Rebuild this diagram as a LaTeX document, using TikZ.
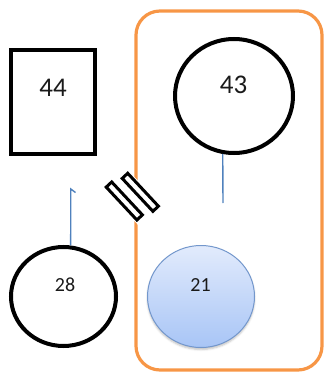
\documentclass[tikz,border=0pt]{standalone}
\usepackage{fontspec}
\setmainfont{Carlito}
\usetikzlibrary{shapes.geometric,shadows.blur}
\definecolor{frameorange}{HTML}{F79646}
\definecolor{linkblue}{HTML}{4F81BD}
\definecolor{ballborder}{HTML}{7397CC}
\definecolor{balltop}{HTML}{E2EBFC}
\definecolor{ballbottom}{HTML}{A8C5F6}
\definecolor{digit}{HTML}{1A1A1A}
\tikzset{
  outline/.style={draw=black, line width=4pt, inner sep=0pt},
  ring/.style={outline, ellipse},
  ball/.style={ellipse, draw=ballborder, line width=1pt, inner sep=0pt,
    top color=balltop, bottom color=ballbottom,
    blur shadow={shadow xshift=0pt, shadow yshift=-2pt, shadow blur radius=2pt, shadow opacity=25}},
  bigdigits/.style={text=digit, font=\fontsize{27}{30}\selectfont, inner sep=0pt},
  smalldigits/.style={text=digit, font=\fontsize{20}{22}\selectfont, inner sep=0pt},
  link/.style={draw=linkblue, line width=1.4pt},
  breakbar/.style={rectangle, draw=black, fill=white, line width=3pt,
    minimum width=45pt, minimum height=7.5pt, inner sep=0pt, rotate=-47},
}
\begin{document}
\begin{tikzpicture}[x=1pt, y=-1pt]
  \useasboundingbox (0,0) rectangle (325,377);

  % orange group frame
  \draw[frameorange, line width=3.2pt, rounded corners=24pt] (136,11) rectangle (322,370);

  % box 44
  \node[outline, rectangle, minimum width=84pt, minimum height=104pt] (b44) at (53,102) {};
  \node[bigdigits] (t44) at (53,88) {44};

  % ring 43
  \node[ring, minimum width=118pt, minimum height=114pt] (c43) at (234,96) {};
  \node[bigdigits] (t43) at (233.5,85) {43};

  % ring 28
  \node[ring, minimum width=105pt, minimum height=99pt] (c28) at (63.5,296.5) {};
  \node[smalldigits] (t28) at (65,285) {28};

  % shaded ball 21
  \node[ball, minimum width=107pt, minimum height=102pt] (c21) at (201,296.5) {};
  \node[smalldigits] (t21) at (200.5,285) {21};

  % short leads
  \coordinate (e43) at (223,203);
  \draw[link] (c43.259) -- (e43);
  \coordinate (e28) at (70.8,189);
  \coordinate (h28) at (75.5,192.5);
  \draw[link] (h28) -- (e28) -- (c28.82);

  % break mark across the frame
  \node[rectangle, fill=white, minimum width=50pt, minimum height=30pt, rotate=-47] (gap) at (132.3,196.7) {};
  \node[breakbar] (bar1) at (124.3,201) {};
  \node[breakbar] (bar2) at (140.3,192.3) {};
\end{tikzpicture}
\end{document}
